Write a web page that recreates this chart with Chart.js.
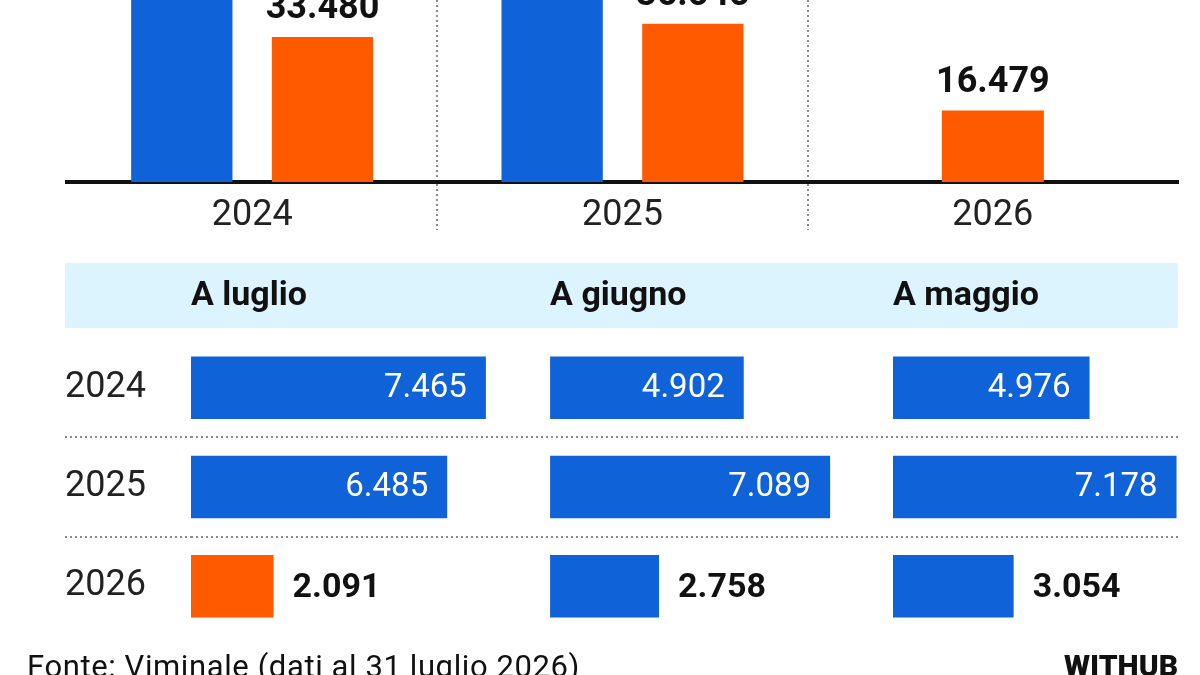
<!DOCTYPE html>
<html lang="it">
<head>
<meta charset="utf-8">
<title>Sbarchi - Viminale</title>
<script src="https://cdn.jsdelivr.net/npm/chart.js@4.4.1/dist/chart.umd.min.js"></script>
<style>
  html, body { margin: 0; padding: 0; background: #fff; }
  #wrap { position: relative; width: 1200px; height: 675px; overflow: hidden; font-family: Roboto, "Noto Sans", sans-serif; color: #111; }
  #top { position: absolute; left: 0; top: 0; }
  #bottom { position: absolute; left: 0; top: 250px; }
  .note { position: absolute; line-height: 1; white-space: nowrap; }
  #source { left: 27px; top: 651px; font-size: 31px; letter-spacing: 0.6px; }
  #brand { right: 22px; top: 651px; font-size: 30px; font-weight: 900; }
</style>
</head>
<body>
<div id="wrap">
  <canvas id="top" width="1200" height="250"></canvas>
  <canvas id="bottom" width="1200" height="425"></canvas>
  <div class="note" id="source">Fonte: Viminale (dati al 31 luglio 2026)</div>
  <div class="note" id="brand">WITHUB</div>
</div>
<script>
// grafico in alto: anni
const years = ["2024", "2025", "2026"];
// barre blu: escono dal riquadro in alto, valori stimati
const totalYear = [66317, 66296, null];
// barre arancioni
const janToJul = [33480, 36545, 16479];

// tabella in basso: un mese per colonna
const monthTitles = ["A luglio", "A giugno", "A maggio"];
const july = [7465, 6485, 2091];
const june = [4902, 7089, 2758];
const may = [4976, 7178, 3054];
// fondo scala di ogni colonna
const monthMax = [9090, 8680, 7215];

const BLUE = "#1062d8";
const ORANGE = "#ff5a00";

const fmt = (v) => String(v).replace(/\B(?=(\d{3})+(?!\d))/g, ".");

// solo le linee tra una categoria e l'altra
const between = (ctx) => (ctx.index > 0 ? "#8a8a8a" : "rgba(0,0,0,0)");

const topLabels = {
  id: "topLabels",
  afterDatasetsDraw(chart) {
    const { ctx } = chart;
    ctx.save();
    ctx.font = "bold 36px Roboto";
    ctx.fillStyle = "#111";
    ctx.textAlign = "center";
    ctx.textBaseline = "alphabetic";
    chart.data.datasets.forEach((ds, i) => {
      chart.getDatasetMeta(i).data.forEach((bar, j) => {
        if (ds.data[j] == null) return;
        ctx.fillText(fmt(ds.data[j]), bar.x, bar.y - 19);
      });
    });
    ctx.restore();
  }
};

const headerBand = {
  id: "headerBand",
  beforeDraw(chart) {
    const { ctx, chartArea, scales } = chart;
    ctx.save();
    ctx.fillStyle = "#dcf4fd";
    ctx.fillRect(scales.y.left, chartArea.top - 75, chartArea.right - scales.y.left, 65);
    ctx.restore();
  }
};

const rowLabels = {
  id: "rowLabels",
  afterDatasetsDraw(chart) {
    const { ctx } = chart;
    ctx.save();
    ctx.textBaseline = "middle";
    chart.data.datasets.forEach((ds, i) => {
      chart.getDatasetMeta(i).data.forEach((bar, j) => {
        const text = fmt(ds.data[j]);
        ctx.font = "33px Roboto";
        if (ctx.measureText(text).width + 38 < bar.x - bar.base) {
          ctx.fillStyle = "#fff";
          ctx.textAlign = "right";
          ctx.fillText(text, bar.x - 19, bar.y + 1);
        } else {
          ctx.font = "bold 34px Roboto";
          ctx.fillStyle = "#111";
          ctx.textAlign = "left";
          ctx.fillText(text, bar.x + 19, bar.y + 2);
        }
      });
    });
    ctx.restore();
  }
};

new Chart(document.getElementById("top"), {
  type: "bar",
  data: {
    labels: years,
    datasets: [
      { label: "Anno", data: totalYear, backgroundColor: BLUE },
      { label: "Gennaio-luglio", data: janToJul, backgroundColor: ORANGE }
    ]
  },
  options: {
    responsive: false,
    animation: false,
    layout: { padding: { left: 67, right: 22, top: 0, bottom: 0 } },
    datasets: {
      bar: { skipNull: true, categoryPercentage: 0.76, barPercentage: 0.72, maxBarThickness: 102, borderWidth: 0 }
    },
    plugins: { legend: { display: false }, tooltip: { enabled: false } },
    scales: {
      x: {
        grid: {
          offset: true, color: between, tickColor: between,
          lineWidth: 2, tickWidth: 2, tickLength: 48,
          borderDash: [2, 3], tickBorderDash: [2, 3]
        },
        border: { color: "#111", width: 4, dash: [2, 3] },
        ticks: { font: { family: "Roboto", size: 36 }, color: "#222", padding: -36, maxRotation: 0 },
        afterFit(scale) { scale.height = 68; }
      },
      y: { display: false, min: 0, max: 42000 }
    }
  },
  plugins: [topLabels]
});

const julyColors = [BLUE, BLUE, ORANGE];

// le colonne sono affiancate nello stesso "stack"; il peso più alto va a sinistra
function monthAxis(i) {
  return {
    type: "linear",
    position: "top",
    stack: "cols",
    stackWeight: monthMax[i],
    weight: monthTitles.length - i,
    min: 0,
    max: monthMax[i],
    ticks: { display: false },
    grid: { display: false },
    border: { display: false },
    title: {
      display: true,
      text: monthTitles[i],
      align: "start",
      color: "#111",
      font: { family: "Roboto", size: 34, weight: "bold" },
      padding: { top: 26, bottom: 0 }
    },
    afterFit(scale) { scale.height = 88; }
  };
}

new Chart(document.getElementById("bottom"), {
  type: "bar",
  data: {
    labels: years,
    datasets: [
      { label: monthTitles[0], data: july, xAxisID: "x1", backgroundColor: julyColors },
      { label: monthTitles[1], data: june, xAxisID: "x2", backgroundColor: BLUE },
      { label: monthTitles[2], data: may, xAxisID: "x3", backgroundColor: BLUE }
    ]
  },
  options: {
    indexAxis: "y",
    responsive: false,
    animation: false,
    layout: { padding: { left: 65, right: 22, top: 0, bottom: 39 } },
    datasets: {
      bar: { grouped: false, barPercentage: 0.63, categoryPercentage: 1, borderWidth: 0 }
    },
    plugins: { legend: { display: false }, tooltip: { enabled: false } },
    scales: {
      y: {
        grid: {
          offset: true, color: between, tickColor: between,
          lineWidth: 2, tickWidth: 2, tickLength: 126,
          borderDash: [2, 3], tickBorderDash: [2, 3]
        },
        border: { display: false, dash: [2, 3] },
        ticks: { crossAlign: "far", font: { family: "Roboto", size: 36 }, color: "#222" },
        afterFit(scale) { scale.width = 126; }
      },
      x1: monthAxis(0),
      x2: monthAxis(1),
      x3: monthAxis(2)
    }
  },
  plugins: [headerBand, rowLabels]
});
</script>
</body>
</html>
